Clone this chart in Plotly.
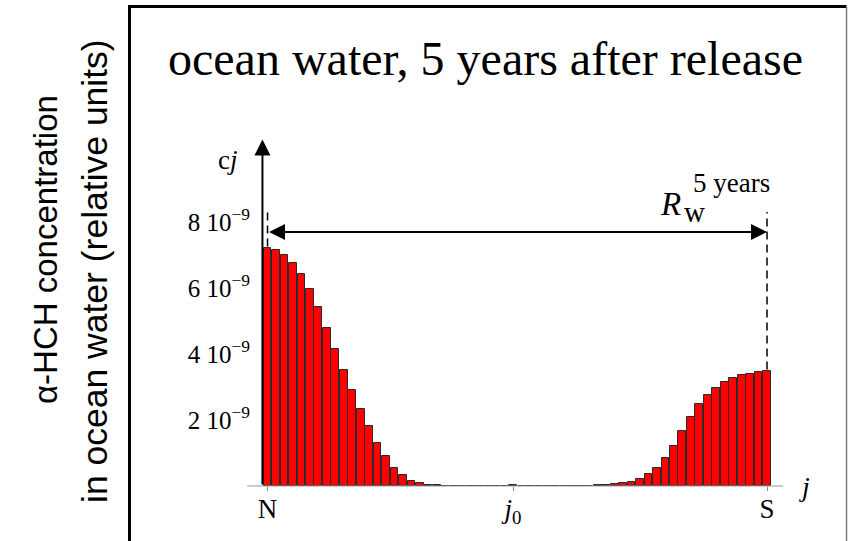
import plotly.graph_objects as go

W, H = 848, 541

# Box index along the N -> S transect and concentration in each box (units of 1e-9)
boxes = list(range(60))
conc = [7.21, 7.15, 7.00, 6.76, 6.42, 5.97, 5.42, 4.79, 4.15, 3.52,
        2.91, 2.33, 1.82, 1.30, 0.92, 0.55, 0.32, 0.16, 0.08, 0.04,
        0.02, 0.01, 0.006, 0.004, 0.003, 0.003, 0.004, 0.006, 0.012, 0.03,
        0.012, 0.006, 0.004, 0.003, 0.003, 0.004, 0.006, 0.01, 0.015, 0.025,
        0.04, 0.06, 0.08, 0.12, 0.22, 0.37, 0.56, 0.85, 1.22, 1.68,
        2.10, 2.47, 2.75, 2.96, 3.15, 3.26, 3.35, 3.39, 3.44, 3.48]
scale = 1e-9

tick_vals_y = [2, 4, 6, 8]
tick_text_y = [f"{v} 10<sup>\u22129</sup>" for v in tick_vals_y]
tick_vals_x = [0, 29, 59]
tick_text_x = ["N", "<i>j</i><sub>0</sub>", "S"]

release_box, edge_box = 0, 59
range_level = 7.70        # height of the R_w arrow
axis_top = 10.5           # tip of the concentration axis arrow

SERIF = "Liberation Serif"
SANS = "Liberation Sans"

# pixel geometry of the plotting frame
x0_px, dx_px = 267.53, 8.466     # centre of box 0, spacing between boxes
y0_px, dy_px = 486.0, 33.0       # baseline, pixels per 1e-9


def px(x):
    return x / W


def py(y):
    return 1 - y / H


fig = go.Figure()
fig.add_trace(go.Bar(
    x=boxes,
    y=[v * scale for v in conc],
    width=0.92,
    marker=dict(color="#ff0000", line=dict(color="#2a2a2a", width=1)),
    hoverinfo="skip",
))

shapes = [
    # baseline
    dict(type="line", xref="x", yref="y", x0=-2.4, x1=60.9, y0=0, y1=0,
         line=dict(color="#9a9a9a", width=1.2)),
    # dashed markers at both ends of the transect
    dict(type="line", xref="x", yref="y", x0=release_box, x1=release_box,
         y0=(conc[release_box] + 0.05) * scale, y1=8.3 * scale,
         line=dict(color="black", width=1.5, dash="8px,5px")),
    dict(type="line", xref="x", yref="y", x0=edge_box, x1=edge_box,
         y0=(conc[edge_box] + 0.05) * scale, y1=8.3 * scale,
         line=dict(color="black", width=1.5, dash="8px,5px")),
    # frame
    dict(type="line", xref="paper", yref="paper", x0=px(129.5), x1=px(129.5),
         y0=py(6.5), y1=py(545), line=dict(color="black", width=3)),
    dict(type="line", xref="paper", yref="paper", x0=px(128), x1=px(846.5),
         y0=py(6.5), y1=py(6.5), line=dict(color="black", width=3)),
    dict(type="line", xref="paper", yref="paper", x0=px(846.5), x1=px(846.5),
         y0=py(6.5), y1=py(545), line=dict(color="#777777", width=1.5)),
]

annotations = [
    # concentration axis with arrow
    dict(x=-0.6, y=axis_top * scale, ax=-0.6, ay=0, xref="x", yref="y",
         axref="x", ayref="y", text="", showarrow=True, arrowhead=2,
         arrowsize=1.6, arrowwidth=2, arrowcolor="black"),
    # R_w double arrow
    dict(x=edge_box, y=range_level * scale, ax=release_box, ay=range_level * scale,
         xref="x", yref="y", axref="x", ayref="y", text="", showarrow=True,
         arrowhead=2, startarrowhead=2, arrowside="end+start",
         arrowsize=1.6, startarrowsize=1.6, arrowwidth=2, arrowcolor="black"),
    # title
    dict(x=px(486), y=py(58), xref="paper", yref="paper", showarrow=False,
         text="ocean water, 5 years after release", xanchor="center",
         yanchor="middle", font=dict(family=SERIF, size=48, color="black")),
    # axis titles
    dict(x=px(45), y=py(250), xref="paper", yref="paper", showarrow=False,
         text="\u03b1-HCH concentration", textangle=-90, xanchor="center",
         yanchor="middle", font=dict(family=SANS, size=33, color="black")),
    dict(x=px(95), y=py(271), xref="paper", yref="paper", showarrow=False,
         text="in ocean water (relative units)", textangle=-90, xanchor="center",
         yanchor="middle", font=dict(family=SANS, size=35.5, color="black")),
    dict(x=px(240), y=py(160), xref="paper", yref="paper", showarrow=False,
         text="c<i>j</i>", xanchor="right", yanchor="middle",
         font=dict(family=SERIF, size=27, color="black")),
    dict(x=px(797), y=py(486), xref="paper", yref="paper", showarrow=False,
         text="<i>j</i>", xanchor="left", yanchor="middle",
         font=dict(family=SERIF, size=28, color="black")),
    # R_w^(5 years)
    dict(x=px(683), y=py(204), xref="paper", yref="paper", showarrow=False,
         text="<i>R</i>", xanchor="right", yanchor="middle",
         font=dict(family=SERIF, size=33, color="black")),
    dict(x=px(682), y=py(212), xref="paper", yref="paper", showarrow=False,
         text="w", xanchor="left", yanchor="middle",
         font=dict(family=SERIF, size=29, color="black")),
    dict(x=px(691), y=py(183), xref="paper", yref="paper", showarrow=False,
         text="5 years", xanchor="left", yanchor="middle",
         font=dict(family=SERIF, size=27, color="black")),
]

fig.update_layout(
    width=W, height=H,
    margin=dict(l=0, r=0, t=0, b=0),
    paper_bgcolor="white", plot_bgcolor="white",
    showlegend=False,
    bargap=0,
    shapes=shapes,
    annotations=annotations,
    xaxis=dict(
        range=[(0 - x0_px) / dx_px, (W - x0_px) / dx_px],
        domain=[0, 1], anchor="free", position=py(y0_px),
        showgrid=False, zeroline=False, showline=False,
        tickmode="array", tickvals=tick_vals_x, ticktext=tick_text_x,
        ticks="outside", ticklen=4, tickwidth=1, tickcolor="#888888",
        ticklabelstandoff=-5,
        tickfont=dict(family=SERIF, size=27, color="black"),
    ),
    yaxis=dict(
        range=[(y0_px - H) / dy_px * scale, y0_px / dy_px * scale],
        domain=[0, 1], anchor="free", position=px(262),
        showgrid=False, zeroline=False, showline=False,
        tickmode="array", tickvals=[v * scale for v in tick_vals_y],
        ticktext=tick_text_y, ticks="", ticklabelstandoff=12,
        tickfont=dict(family=SERIF, size=25, color="black"),
    ),
)

fig.write_html("out.html")
